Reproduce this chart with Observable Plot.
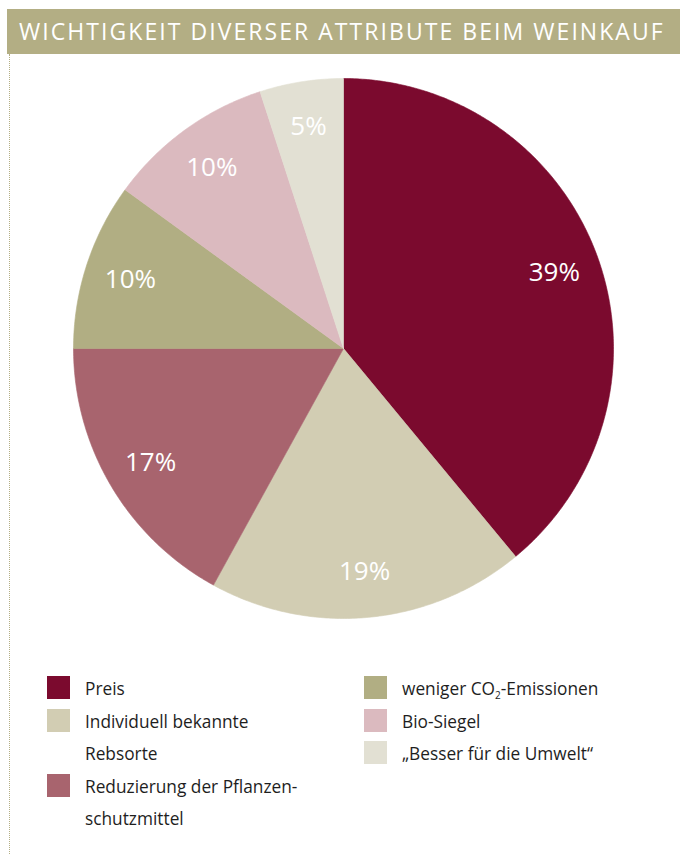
<!DOCTYPE html>
<html><head><meta charset="utf-8">
<script src="https://cdn.jsdelivr.net/npm/d3@7"></script>
<script src="https://cdn.jsdelivr.net/npm/@observablehq/plot@0.6"></script>
<style>
html,body{margin:0;padding:0}
body{width:680px;height:854px;position:relative;background:#fff;font-family:"Open Sans",sans-serif;overflow:hidden}
#title{position:absolute;left:7px;top:9px;width:673px;height:45px;background:#b3ae84;color:#fff;font-size:23px;line-height:45px;padding-left:12px;box-sizing:border-box;white-space:nowrap;letter-spacing:2.05px;font-weight:400}
#rule{position:absolute;left:9px;top:54px;height:800px;border-left:1px dotted #b3ae84}
#chart{position:absolute;left:0;top:54px}
.col{position:absolute;top:673px;font-size:17.3px;line-height:32.5px;color:#1e1e1e}
.item{display:flex;align-items:flex-start}
.sw{width:23px;height:23px;flex:none;margin-top:3px;margin-right:15px}
sub{font-size:10px;line-height:0;vertical-align:-4px}
</style></head>
<body>
<div id="title"></div>
<div id="rule"></div>
<div id="chart"></div>
<div class="col" id="leg1" style="left:47px"></div>
<div class="col" id="leg2" style="left:364px"></div>
<script>
const titleText = "WICHTIGKEIT DIVERSER ATTRIBUTE BEIM WEINKAUF";
const categories = ["Preis", "Individuell bekannte Rebsorte", "Reduzierung der Pflanzenschutzmittel", "weniger CO2-Emissionen", "Bio-Siegel", "„Besser für die Umwelt“"];
const legendLines = [["Preis"], ["Individuell bekannte", "Rebsorte"], ["Reduzierung der Pflanzen-", "schutzmittel"], ["weniger CO<sub>2</sub>-Emissionen"], ["Bio-Siegel"], ["„Besser für die Umwelt“"]];
const shares = [39, 19, 17, 10, 10, 5];
const colors = ["#7b0a2e", "#d2cdb3", "#a8646e", "#b1ae83", "#dbbabf", "#e2e0d3"];

document.getElementById("title").textContent = titleText;

// build slices (angles clockwise from top)
const total = d3.sum(shares);
let acc = 0;
const slices = categories.map((c, i) => {
  const a0 = acc / total * 2 * Math.PI;
  acc += shares[i];
  const a1 = acc / total * 2 * Math.PI;
  const n = Math.max(2, Math.ceil((a1 - a0) / 0.01));
  const pts = [{x: 0, y: 0}];
  for (let k = 0; k <= n; k++) {
    const a = a0 + (a1 - a0) * k / n;
    pts.push({x: Math.sin(a), y: Math.cos(a)});
  }
  pts.push({x: 0, y: 0});
  const m = (a0 + a1) / 2;
  return {cat: c, color: colors[i], pts, label: shares[i] + "%", lx: 0.83 * Math.sin(m), ly: 0.83 * Math.cos(m)};
});

const W = 680, H = 580, R = 270, cx = 343, cy = 294;
const chart = Plot.plot({
  width: W, height: H, margin: 0,
  x: {domain: [-cx / R, (W - cx) / R], axis: null},
  y: {domain: [-(H - cy) / R, cy / R], axis: null},
  style: {fontFamily: "'Open Sans', sans-serif", background: "transparent"},
  marks: [
    ...slices.map(s => Plot.line(s.pts, {x: "x", y: "y", fill: s.color, stroke: s.color, strokeWidth: 0.6, curve: "linear"})),
    Plot.text(slices, {x: "lx", y: "ly", text: "label", fill: "white", fontSize: 26, fontWeight: 400})
  ]
});
document.getElementById("chart").appendChild(chart);

function legendItem(i) {
  const d = document.createElement("div");
  d.className = "item";
  d.innerHTML = `<div class="sw" style="background:${colors[i]}"></div><div>${legendLines[i].join("<br>")}</div>`;
  return d;
}
[0, 1, 2].forEach(i => document.getElementById("leg1").appendChild(legendItem(i)));
[3, 4, 5].forEach(i => document.getElementById("leg2").appendChild(legendItem(i)));
</script>
</body></html>
